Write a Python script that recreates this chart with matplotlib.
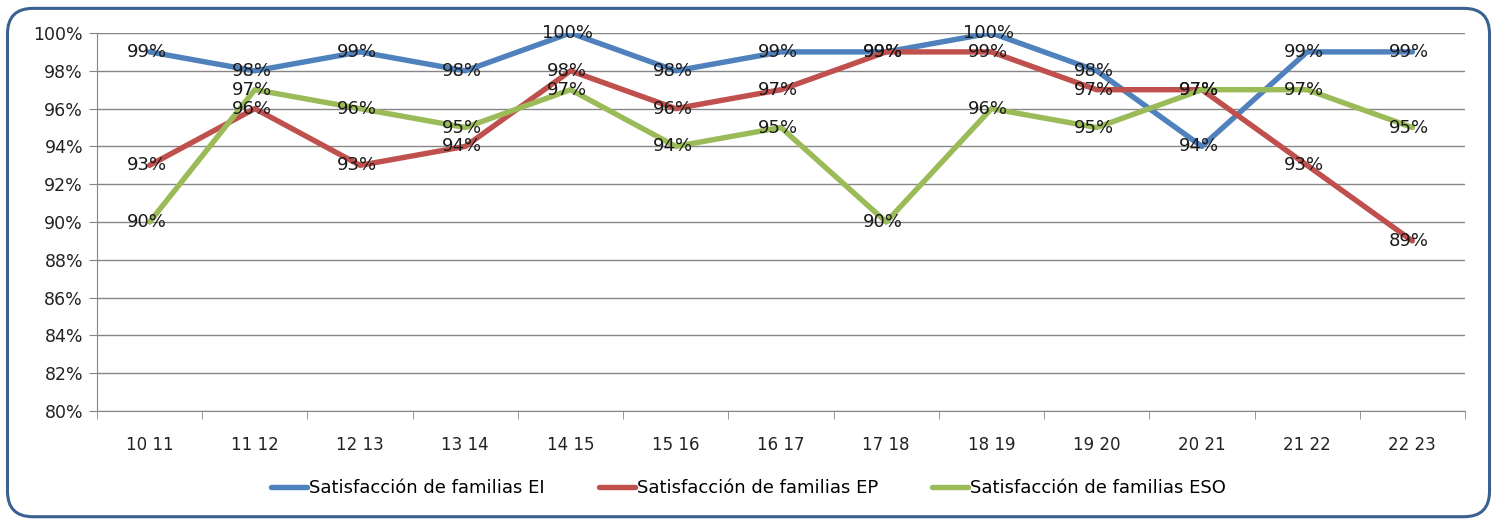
import numpy as np
import matplotlib
matplotlib.use("Agg")
import matplotlib.pyplot as plt
from matplotlib.patches import FancyBboxPatch
from matplotlib.ticker import FixedLocator, NullFormatter

cursos = ["10 11", "11 12", "12 13", "13 14", "14 15", "15 16", "16 17",
          "17 18", "18 19", "19 20", "20 21", "21 22", "22 23"]
sat_ei = [99, 98, 99, 98, 100, 98, 99, 99, 100, 98, 94, 99, 99]
sat_ep = [93, 96, 93, 94, 98, 96, 97, 99, 99, 97, 97, 93, 89]
sat_eso = [90, 97, 96, 95, 97, 94, 95, 90, 96, 95, 97, 97, 95]
series_names = ["Satisfacción de familias EI", "Satisfacción de familias EP",
                "Satisfacción de familias ESO"]
colors = ["#4f81bd", "#c0504d", "#9bbb59"]

plt.rcParams["font.family"] = ["DejaVu Sans"]

fig = plt.figure(figsize=(14.97, 5.23), dpi=100)
box = FancyBboxPatch((0.005, 0.012), 0.99, 0.972, boxstyle="round,pad=0,rounding_size=0.017",
                     transform=fig.transFigure, fc="white", ec="#3b6190", lw=2.2,
                     mutation_aspect=1497 / 523, zorder=-10)
fig.patches.append(box)

ax = fig.add_axes([0.0648, 0.2141, 0.9138, 0.7228])
ax.patch.set_alpha(0)
x = np.arange(len(cursos))
for vals, name, c in zip([sat_ei, sat_ep, sat_eso], series_names, colors):
    ax.plot(x, vals, color=c, lw=3.9, label=name, solid_capstyle="round", zorder=3)
    for xi, v in zip(x, vals):
        ax.text(xi - 0.03, v, f"{v}%", ha="center", va="center", fontsize=13,
                color="#1a1a1a", zorder=4)

ax.set_xlim(-0.5, len(cursos) - 0.5)
ax.set_ylim(80, 100)
ax.set_yticks(np.arange(80, 101, 2))
ax.set_yticklabels([f"{t}%" for t in range(80, 101, 2)], fontsize=12.5, color="#222222")
ax.set_xticks(x)
ax.set_xticklabels(cursos, fontsize=12, color="#222222")
ax.tick_params(axis="x", length=0, pad=18)
ax.xaxis.set_minor_locator(FixedLocator(np.arange(-0.5, len(cursos), 1)))
ax.xaxis.set_minor_formatter(NullFormatter())
ax.tick_params(axis="x", which="minor", length=6, color="#868686", direction="out")
ax.tick_params(axis="y", length=6, color="#868686", pad=4)
ax.grid(axis="y", color="#868686", lw=1)
ax.set_axisbelow(True)
for s in ["top", "right"]:
    ax.spines[s].set_visible(False)
for s in ["left", "bottom"]:
    ax.spines[s].set_color("#868686")

fig.legend(loc="center", bbox_to_anchor=(0.5, 0.067), ncol=3, frameon=False,
           handlelength=2.0, columnspacing=3.0, handletextpad=0.1,
           prop={"family": ["DejaVu Sans"], "size": 13})

fig.savefig("out.png", dpi=100)
